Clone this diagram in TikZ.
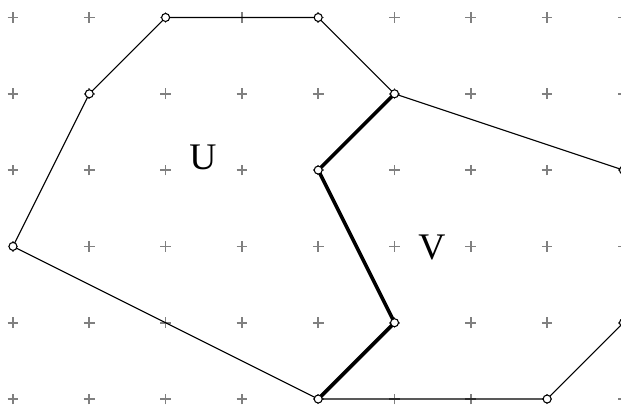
\documentclass[tikz,border=0pt]{standalone}
\usepackage{fontspec}
\setmainfont{Liberation Serif}
\begin{document}
\begin{tikzpicture}[x=1cm,y=1cm,
  gridplus/.style={draw=gray,line width=0.6pt},
  edge/.style={line width=0.4pt},
  thickedge/.style={line width=1.35pt},
  vtx/.style={circle,draw,fill=white,inner sep=0pt,minimum size=3pt,line width=0.4pt},
  lbl/.style={font=\fontsize{14}{16}\selectfont}]
\useasboundingbox (-0.170,-0.118) rectangle (7.968,5.229);
\clip (-0.170,-0.118) rectangle (7.968,5.229);
\foreach \i in {0,...,8}{\foreach \j in {0,...,5}{
  \draw[gridplus] (\i-0.07,\j) -- (\i+0.07,\j) (\i,\j-0.07) -- (\i,\j+0.07);}}
\coordinate (a) at (0,2);
\coordinate (b) at (1,4);
\coordinate (c) at (2,5);
\coordinate (d) at (4,5);
\coordinate (e) at (5,4);
\coordinate (f) at (4,3);
\coordinate (g) at (5,1);
\coordinate (h) at (4,0);
\coordinate (i) at (8,3);
\coordinate (j) at (8,1);
\coordinate (k) at (7,0);
\draw[edge] (h) -- (a) -- (b) -- (c) -- (d) -- (e) -- (i) -- (j) -- (k) -- (h);
\draw[thickedge,line join=round] (e) -- (f) -- (g) -- (h);
\foreach \p in {a,b,c,d,e,f,g,h,i,j,k}{\node[vtx] (n\p) at (\p) {};}
\node[lbl] (U) at (2.49,3.16) {U};
\node[lbl] (V) at (5.49,1.98) {V};
\end{tikzpicture}
\end{document}
